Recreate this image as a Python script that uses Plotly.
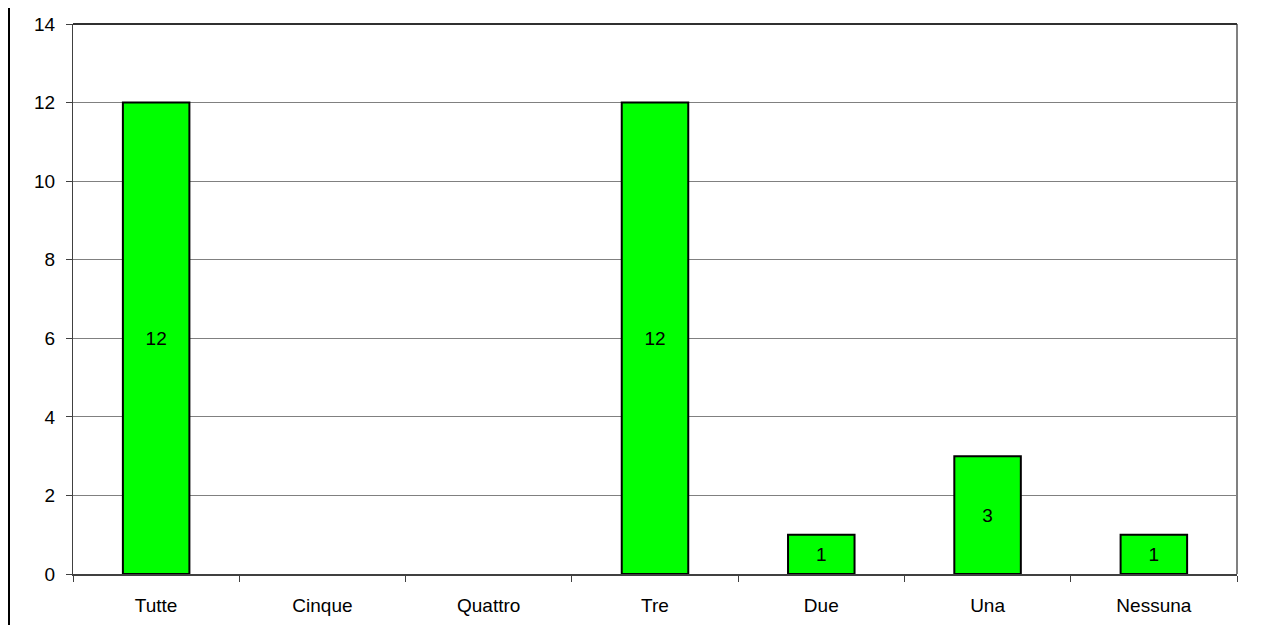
import plotly.graph_objects as go

categories = ["Tutte", "Cinque", "Quattro", "Tre", "Due", "Una", "Nessuna"]
values = [12, None, None, 12, 1, 3, 1]
y_ticks = [0, 2, 4, 6, 8, 10, 12, 14]

# page has an 8px body margin; the figure starts at (8, 8)
OFF = 8
W, H = 1266 - OFF, 625 - OFF
L, R, T, B = 73 - OFF, 29, 24 - OFF, 51
PW, PH = W - L - R, H - T - B

FONT = "Arial, Liberation Sans, sans-serif"

fig = go.Figure(go.Bar(
    x=categories, y=values,
    width=0.4,
    marker=dict(color="#00FF00", line=dict(color="#000000", width=2)),
    text=[str(v) if v is not None else "" for v in values],
    textposition="inside", insidetextanchor="middle",
    textfont=dict(family=FONT, size=19, color="#000000"),
    textangle=0,
))

fig.update_layout(
    width=W, height=H,
    margin=dict(l=L, r=R, t=T, b=B, autoexpand=False),
    paper_bgcolor="white", plot_bgcolor="white",
    font=dict(family=FONT, size=19, color="#000000"),
    showlegend=False,
    xaxis=dict(
        type="category", tickson="boundaries",
        ticks="outside", ticklen=6, tickcolor="#404040", tickwidth=1,
        showline=True, linecolor="#404040", linewidth=2,
        showgrid=False, ticklabelstandoff=13,
        tickfont=dict(size=19),
        automargin=False,
    ),
    yaxis=dict(
        range=[0, 14], tickvals=y_ticks, ticktext=[str(v) for v in y_ticks],
        ticks="outside", ticklen=6, tickcolor="#404040", tickwidth=1,
        showline=True, linecolor="#404040", linewidth=1,
        showgrid=True, gridcolor="#808080", gridwidth=1,
        zeroline=False, ticklabelstandoff=7,
        tickfont=dict(size=19),
        automargin=False,
    ),
    shapes=[
        dict(type="line", xref="paper", yref="paper", x0=1, x1=1, y0=0, y1=1,
             line=dict(color="#808080", width=2)),
        dict(type="line", xref="paper", yref="paper", x0=0, x1=1, y0=1, y1=1,
             line=dict(color="#303030", width=2)),
        dict(type="line", xref="paper", yref="paper",
             x0=(9 - OFF - L) / PW, x1=(9 - OFF - L) / PW,
             y0=-B / PH, y1=1 + T / PH,
             line=dict(color="#000000", width=2)),
    ],
)

fig.write_html("out.html")
